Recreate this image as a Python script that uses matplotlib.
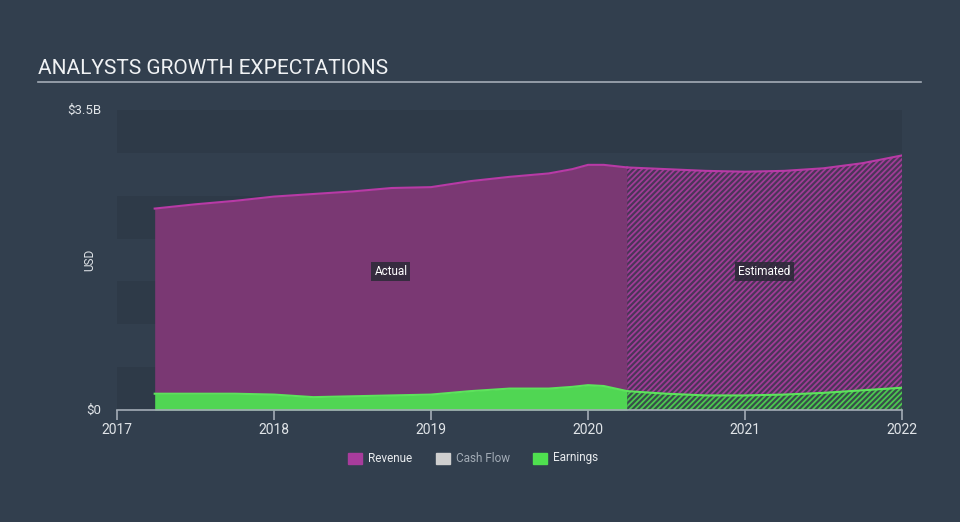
import matplotlib
matplotlib.use('Agg')
import matplotlib.pyplot as plt
import numpy as np

# data (billions USD)
dates = [2017.24, 2017.5, 2017.75, 2018.0, 2018.25, 2018.5, 2018.75, 2019.0,
         2019.25, 2019.5, 2019.75, 2019.9, 2020.0, 2020.1, 2020.25,
         2020.5, 2020.75, 2021.0, 2021.25, 2021.5, 2021.75, 2022.0]
revenue = [2.35, 2.40, 2.44, 2.49, 2.52, 2.55, 2.59, 2.60,
           2.67, 2.72, 2.76, 2.81, 2.86, 2.86, 2.83,
           2.81, 2.79, 2.78, 2.79, 2.82, 2.88, 2.97]
earnings = [0.19, 0.19, 0.19, 0.18, 0.15, 0.16, 0.17, 0.18,
            0.22, 0.25, 0.25, 0.27, 0.29, 0.28, 0.22,
            0.19, 0.17, 0.17, 0.18, 0.20, 0.23, 0.26]
split = 2020.25
year_ticks = [2017, 2018, 2019, 2020, 2021, 2022]

bg = '#323f4e'
band = '#2e3a48'
rev_fill = '#7a3873'
rev_line = '#b83aa6'
earn_fill = '#50d653'
earn_line = '#5de35c'

plt.rcParams['font.family'] = ['Roboto', 'DejaVu Sans']
plt.rcParams['hatch.linewidth'] = 1.3

fig = plt.figure(figsize=(9.6, 5.22), dpi=100)
fig.patch.set_facecolor(bg)
ax = fig.add_axes([117/960, 1 - 410/522, 785/960, 300/522])
ax.set_facecolor(bg)
ax.set_xlim(2017, 2022)
ax.set_ylim(0, 3.5)

# alternating bands
for i in range(0, 7, 2):
    ax.axhspan(3.5 - (i + 1) * 0.5, 3.5 - i * 0.5, color=band, lw=0, zorder=0)

d = np.array(dates)
r = np.array(revenue)
e = np.array(earnings)
act = d <= split
est = d >= split

# actual
ax.fill_between(d[act], e[act], r[act], color=rev_fill, lw=0, zorder=2)
ax.fill_between(d[act], 0, e[act], color=earn_fill, lw=0, zorder=2)
ax.plot(d[act], r[act], color=rev_line, lw=1.5, zorder=3)
ax.plot(d[act], e[act], color=earn_line, lw=1.5, zorder=3)

# estimated (hatched)
ax.fill_between(d[est], e[est], r[est], facecolor='#4a3558', edgecolor='#a03c96',
                hatch='//////', lw=0, zorder=2)
ax.fill_between(d[est], 0, e[est], facecolor='#384d4a', edgecolor='#4cc850',
                hatch='//////', lw=0, zorder=2)
ax.plot(d[est], r[est], color=rev_line, lw=1.5, zorder=3)
ax.plot(d[est], e[est], color=earn_line, lw=1.5, zorder=3)

# labels
box = dict(boxstyle='square,pad=0.25', fc='#2a2a36', ec='none', alpha=0.85)
ax.text((dates[0] + split) / 2, 1.62, 'Actual', color='white', fontsize=8.5,
        ha='center', va='center', bbox=box, zorder=5)
ax.text((split + 2022) / 2, 1.62, 'Estimated', color='white', fontsize=8.5,
        ha='center', va='center', bbox=box, zorder=5)

# axes styling
for s in ['top', 'right', 'left']:
    ax.spines[s].set_visible(False)
ax.spines['bottom'].set_color('#a3acb6')
ax.spines['bottom'].set_linewidth(1.2)
ax.spines['bottom'].set_zorder(6)
ax.set_xticks(year_ticks)
ax.set_xticklabels([str(y) for y in year_ticks])
ax.tick_params(axis='x', colors='#a3acb6', length=7, width=1.2, labelcolor='#e0e4e8',
               labelsize=10, pad=2)
ax.set_yticks([])
ax.text(-0.02, 1.0, '$3.5B', transform=ax.transAxes, ha='right', va='center',
        color='#e0e4e8', fontsize=9.5)
ax.text(-0.02, 0.0, '$0', transform=ax.transAxes, ha='right', va='center',
        color='#e0e4e8', fontsize=9.5)
ax.text(-0.035, 0.5, 'USD', transform=ax.transAxes, ha='center', va='center',
        rotation=90, color='#e0e4e8', fontsize=8.5)

# title
fig.text(38/960, 1 - 69/522, 'ANALYSTS GROWTH EXPECTATIONS', color='#f0f2f4',
         fontsize=15, ha='left', va='center')
fig.add_artist(plt.Line2D([38/960, 921/960], [1 - 82/522, 1 - 82/522],
                          color='#a3acb6', lw=1.2, transform=fig.transFigure))

# legend
items = [('Revenue', '#a83c9c', '#e8ebee'), ('Cash Flow', '#cfcfcf', '#a3acb6'),
         ('Earnings', '#4fe04f', '#e8ebee')]
xs = [348, 436, 533]
for (lab, c, tc), x in zip(items, xs):
    fig.patches.append(plt.Rectangle((x/960, 1 - 464/522), 14/960, 11/522,
                                     color=c, transform=fig.transFigure))
    fig.text((x + 20)/960, 1 - 458/522, lab, color=tc, fontsize=8.5,
             ha='left', va='center')

fig.savefig('out.png', dpi=100, facecolor=bg)
